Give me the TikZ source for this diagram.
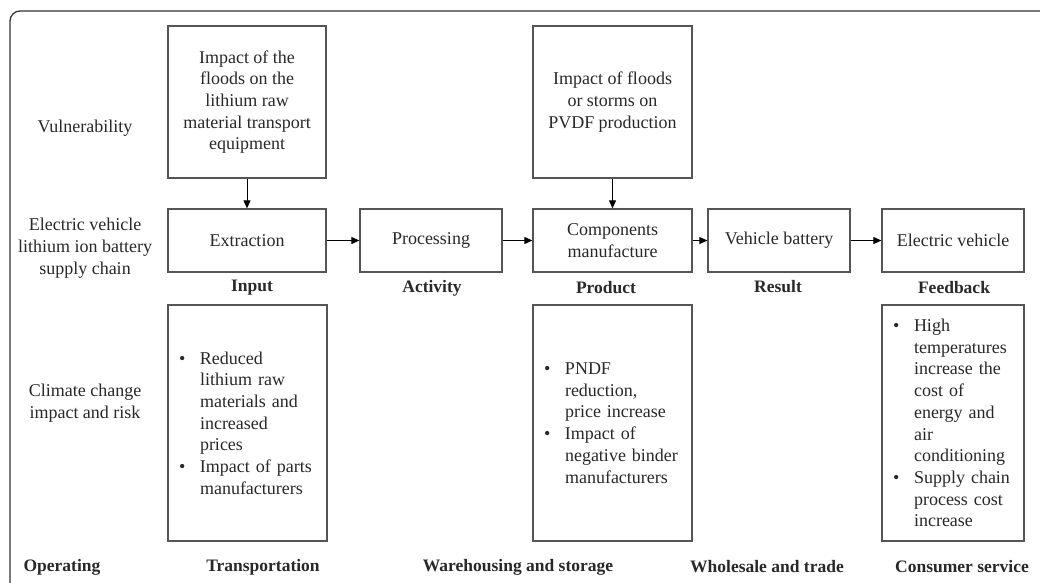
\documentclass[tikz,border=0pt]{standalone}
\usepackage{fontspec}
\setmainfont{Liberation Serif}
\usetikzlibrary{arrows.meta}
\definecolor{boxc}{RGB}{85,85,85}
\definecolor{txt}{RGB}{40,40,40}
\definecolor{framec}{RGB}{50,50,50}
\newcommand{\fsreg}{\fontsize{18}{21.7}\selectfont}
\newcommand{\fsbold}{\fontsize{17.5}{21}\selectfont\bfseries}
\newcommand{\bul}{\makebox[21pt][l]{\textbullet}}
\newcommand{\ind}{\hspace*{21pt}}
\begin{document}
\begin{tikzpicture}[x=1pt,y=-1pt,
  box/.style={draw=boxc, line width=1.3pt, inner sep=0pt, align=center, font=\fsreg, text=txt},
  listbox/.style={draw=boxc, line width=1.3pt, inner xsep=11pt, inner ysep=0pt, align=left, font=\fsreg, text=txt, minimum height=236pt},
  lab/.style={font=\fsreg, text=txt, align=center, inner sep=0pt},
  blab/.style={font=\fsbold, text=txt, inner sep=0pt},
  arr/.style={draw=black, line width=1pt, -{Triangle[length=8pt,width=7pt]}}]
\useasboundingbox (0,0) rectangle (1040,582);
\begin{scope}
\clip (0,0) rectangle (1040,582);
\draw[framec, line width=1.3pt, rounded corners=10pt] (10,11) rectangle (1070,600);
\end{scope}
% vulnerability boxes
\node[box, minimum width=158pt, minimum height=152pt] (vul1) at (247,102) {Impact of the\\floods on the\\lithium raw\\material transport\\equipment};
\node[box, minimum width=159pt, minimum height=152pt] (vul2) at (612.5,102) {Impact of floods\\or storms on\\PVDF production};
% chain
\node[box, minimum width=158pt, minimum height=63pt] (ext) at (247,240.5) {Extraction};
\node[box, minimum width=142pt, minimum height=63pt] (proc) at (431,240.5) {Processing};
\node[box, minimum width=159pt, minimum height=63pt] (comp) at (612.5,240.5) {Components\\manufacture};
\node[box, minimum width=142pt, minimum height=63pt] (batt) at (779,240.5) {Vehicle battery};
\node[box, minimum width=142pt, minimum height=63pt] (ev) at (953,240.5) {Electric vehicle};
% arrows
\draw[arr] (vul1) -- (ext);
\draw[arr] (vul2) -- (comp);
\draw[arr] (ext) -- (proc);
\draw[arr] (proc) -- (comp);
\draw[arr] (comp) -- (batt);
\draw[arr] (batt) -- (ev);
% stage labels
\node[blab] (tin) at (252,288) {Input};
\node[blab] (tact) at (432,288) {Activity};
\node[blab] (tprod) at (606,288) {Product};
\node[blab] (tres) at (778,287) {Result};
\node[blab] (tfb) at (954,288) {Feedback};
% list boxes
\node[listbox, text width=137pt] (l1) at (247.5,423) {\bul Reduced\\\ind lithium raw\\\ind materials and\\\ind increased\\\ind prices\\\bul Impact of parts\\\ind manufacturers};
\node[listbox, text width=137pt] (l2) at (612.5,423) {\bul PNDF\\\ind reduction,\\\ind price increase\\\bul Impact of\\\ind negative binder\\\ind manufacturers};
\node[listbox, text width=120pt] (l3) at (953,423) {\bul High\\\ind temperatures\\\ind increase the\\\ind cost of\\\ind energy and\\\ind air\\\ind conditioning\\\bul Supply chain\\\ind process cost\\\ind increase};
% row labels
\node[lab] (rv) at (85,128) {Vulnerability};
\node[lab] (rs) at (85,248) {Electric vehicle\\lithium ion battery\\supply chain};
\node[lab] (rc) at (85,403) {Climate change\\impact and risk};
% bottom labels
\node[blab] (bo) at (62,567) {Operating};
\node[blab] (bt) at (263,567) {Transportation};
\node[blab] (bw) at (518,567) {Warehousing and storage};
\node[blab] (bh) at (767,567) {Wholesale and trade};
\node[blab] (bc) at (962,567) {Consumer service};
\end{tikzpicture}
\end{document}
